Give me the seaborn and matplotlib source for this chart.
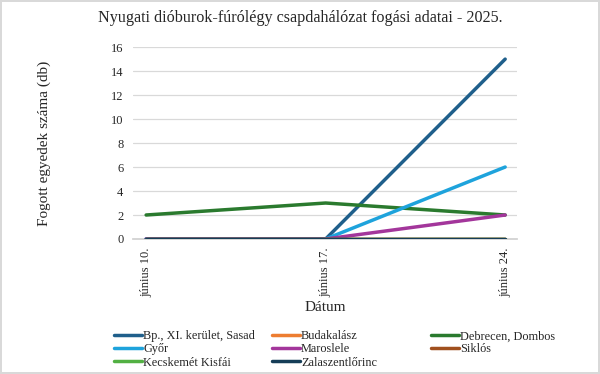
import matplotlib
matplotlib.use("Agg")
import matplotlib.pyplot as plt
import seaborn as sns
import pandas as pd

# Data
dates = ["június 10.", "június 17.", "június 24."]
sites = ["Bp., XI. kerület, Sasad", "Budakalász", "Debrecen, Dombos", "Győr",
         "Maroslele", "Siklós", "Kecskemét Kisfái", "Zalaszentlőrinc"]
counts = {
    "Bp., XI. kerület, Sasad": [0, 0, 15],
    "Budakalász": [0, 0, 0],
    "Debrecen, Dombos": [2, 3, 2],
    "Győr": [0, 0, 6],
    "Maroslele": [0, 0, 2],
    "Siklós": [0, 0, 0],
    "Kecskemét Kisfái": [0, 0, 0],
    "Zalaszentlőrinc": [0, 0, 0],
}
colors = ["#1f5f8b", "#ed7d31", "#2a7a2e", "#1ea3dc",
          "#a3369b", "#a0501e", "#52b043", "#153d57"]

rows = []
for s in sites:
    for d, v in zip(dates, counts[s]):
        rows.append({"Dátum": d, "Telephely": s, "db": v})
df = pd.DataFrame(rows)

sns.set_theme(style="white")
plt.rcParams["font.family"] = ["Liberation Serif", "DejaVu Serif"]

fig = plt.figure(figsize=(6, 3.74), dpi=100)
fig.patch.set_edgecolor("#d9d9d9")
fig.patch.set_linewidth(1.5)
ax = fig.add_axes([0.222, 0.361, 0.640, 0.513])

sns.lineplot(data=df, x="Dátum", y="db", hue="Telephely", hue_order=sites,
             palette=dict(zip(sites, colors)), linewidth=2.5, sort=False,
             ax=ax, legend=False)

ax.set_ylim(0, 16)
ax.set_yticks(range(0, 17, 2))
ax.set_xlim(-0.072, 2.067)
ax.set_xticks(range(len(dates)))
ax.set_xticklabels(dates, rotation=90, fontsize=9)
ax.set_xticks([-0.072, 0.925, 1.928], minor=True)
ax.tick_params(axis="x", which="major", length=0, pad=6)
ax.tick_params(axis="x", which="minor", length=4, color="#d0d0d0", width=0.8)
ax.tick_params(axis="y", length=0, labelsize=9, pad=7)
ax.grid(axis="y", color="#d9d9d9", linewidth=0.9)
ax.set_axisbelow(True)
for side in ["top", "right", "left"]:
    ax.spines[side].set_visible(False)
ax.spines["bottom"].set_color("#d0d0d0")
ax.spines["bottom"].set_zorder(0)

ax.set_xlabel("Dátum", fontsize=11, labelpad=3)
ax.set_ylabel("Fogott egyedek száma (db)", fontsize=11)
ax.yaxis.set_label_coords(-0.213, 0.5)
fig.suptitle("Nyugati dióburok-fúrólégy csapdahálózat fogási adatai - 2025.",
             fontsize=11.6, x=0.5, y=0.972)

# Legend: three columns, filled row by row
lines = dict(zip(sites, ax.get_lines()))
columns = [[0, 3, 6], [1, 4, 7], [2, 5]]
col_x = [0.19, 0.453, 0.718]
for xpos, idx in zip(col_x, columns):
    names = [sites[i] for i in idx]
    fig.legend([lines[n] for n in names], names, loc="upper left",
               bbox_to_anchor=(xpos, 0.117), frameon=False, fontsize=8.8,
               handlelength=2.3, handletextpad=0.1, labelspacing=0.1,
               borderaxespad=0, borderpad=0)

fig.savefig("out.png", dpi=100)
